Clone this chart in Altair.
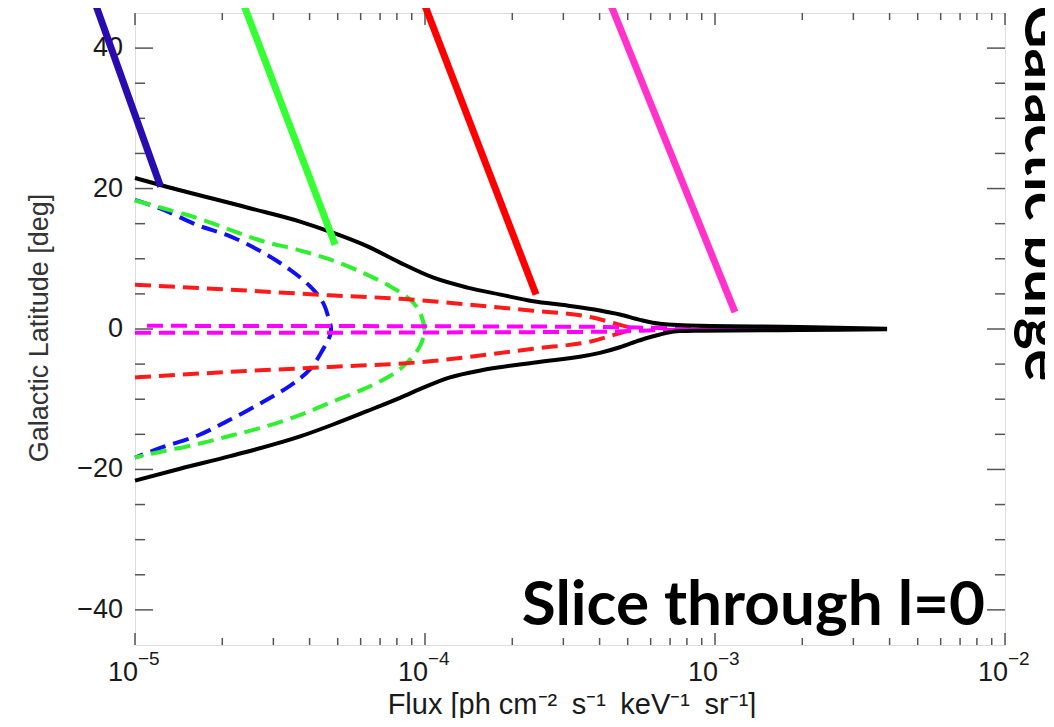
import altair as alt
import pandas as pd

# ---------------- data ----------------
# black solid envelope (upper / lower)
black_up_flux = [1.0e-5, 1.25e-5, 2.49e-5, 3.71e-5, 4.82e-5, 6.31e-5, 8.20e-5, 1.07e-4, 1.40e-4,
                 1.82e-4, 2.36e-4, 3.09e-4, 4.01e-4, 4.70e-4, 5.51e-4, 6.46e-4, 8.87e-4, 1.96e-3, 3.92e-3]
black_up_lat = [21.5, 20.4, 17.2, 15.3, 13.7, 11.8, 9.45, 7.3, 5.9,
                4.9, 3.95, 3.34, 2.63, 2.06, 1.3, 0.74, 0.45, 0.3, 0.05]
black_lo_flux = [1.0e-5, 1.43e-5, 2.13e-5, 3.71e-5, 4.82e-5, 6.31e-5, 8.20e-5, 1.02e-4, 1.22e-4,
                 1.58e-4, 2.36e-4, 4.01e-4, 4.70e-4, 5.51e-4, 6.46e-4, 7.57e-4, 8.87e-4, 1.96e-3, 3.92e-3]
black_lo_lat = [-21.6, -19.9, -18.1, -15.3, -13.6, -11.7, -9.8, -8.1, -6.9,
                -5.85, -4.8, -3.4, -2.6, -1.6, -0.78, -0.3, -0.25, -0.15, -0.05]

# blue dashed (closed curve, drawn in order)
blue_d_flux = [1.0e-5, 1.25e-5, 1.64e-5, 2.13e-5, 2.76e-5, 3.42e-5, 4.01e-5, 4.45e-5, 4.70e-5, 4.74e-5,
               4.70e-5, 4.45e-5, 4.01e-5, 3.42e-5, 2.76e-5, 2.13e-5, 1.64e-5, 1.25e-5, 1.0e-5]
blue_d_lat = [18.4, 17.0, 14.8, 13.2, 10.9, 8.45, 6.1, 3.76, 0.9, 0.0,
              -1.0, -2.9, -5.75, -8.1, -10.4, -12.9, -15.2, -16.8, -18.3]

# green dashed
green_d_flux = [1.0e-5, 1.25e-5, 1.64e-5, 2.13e-5, 2.76e-5, 3.62e-5, 4.70e-5, 6.11e-5, 7.57e-5, 8.88e-5,
                9.62e-5, 9.93e-5, 9.62e-5, 8.67e-5, 7.57e-5, 6.11e-5, 4.70e-5, 3.62e-5, 2.76e-5,
                2.13e-5, 1.64e-5, 1.25e-5, 1.0e-5]
green_d_lat = [18.3, 17.2, 15.8, 14.1, 12.5, 11.3, 9.9, 8.0, 6.1, 4.2,
               2.3, 0.0, -2.4, -4.8, -6.7, -8.6, -10.5, -12.4, -14.0,
               -15.2, -16.4, -17.4, -18.3]

# red dashed (upper / lower)
red_up_flux = [1.0e-5, 2.13e-5, 4.70e-5, 8.20e-5, 1.40e-4, 2.36e-4, 3.71e-4, 4.52e-4, 5.18e-4]
red_up_lat = [6.3, 5.6, 4.8, 4.3, 3.5, 2.6, 1.7, 0.8, 0.1]
red_lo_flux = [1.0e-5, 2.13e-5, 4.70e-5, 1.04e-4, 1.40e-4, 2.36e-4, 3.79e-4, 4.52e-4, 5.18e-4]
red_lo_lat = [-6.9, -6.1, -5.4, -4.6, -4.0, -2.8, -1.7, -0.8, -0.1]

# magenta dashed (upper / lower)
mag_up_flux = [1.1e-5, 8.20e-5, 4.01e-4, 7.57e-4, 3.92e-3]
mag_up_lat = [0.45, 0.4, 0.3, 0.1, 0.0]
mag_lo_flux = [1.0e-5, 8.20e-5, 4.01e-4, 7.57e-4, 3.92e-3]
mag_lo_lat = [-0.55, -0.5, -0.4, -0.1, 0.0]

# thick solid pointer lines (start above the frame, end on the envelope)
ptr_blue_flux = [7.23e-6, 1.225e-5]
ptr_blue_lat = [46.8, 20.3]
ptr_green_flux = [2.34e-5, 4.90e-5]
ptr_green_lat = [46.8, 12.0]
ptr_red_flux = [9.84e-5, 2.415e-4]
ptr_red_lat = [46.8, 4.9]
ptr_mag_flux = [4.31e-4, 1.172e-3]
ptr_mag_lat = [46.8, 2.4]

# axis ticks / labels
x_major = [1e-5, 1e-4, 1e-3, 1e-2]
x_base_labels = ["10", "10", "10", "10"]
x_exp_labels = ["\u22125", "\u22124", "\u22123", "\u22122"]
x_minor = [m * 10.0 ** d for d in (-5, -4, -3) for m in range(2, 10)]
y_major = [-40, -20, 0, 20, 40]
y_labels = ["\u221240", "\u221220", "0", "20", "40"]
y_minor = [-35, -30, -25, -15, -10, -5, 5, 10, 15, 25, 30, 35]

SP = "\u2002"
x_title = ("Flux [ph cm\u207b\u00b2" + SP + "s\u207b\u00b9" + SP + "keV\u207b\u00b9" + SP +
           "sr\u207b\u00b9]")
y_title = "Galactic Latitude [deg]"
annotation = "Slice through l=0"
side_text = "Galactic bulge"

# ---------------- chart ----------------
W, H = 870, 632
FONT = "Liberation Sans"
TXT = "#1a1a1a"
xscale = alt.Scale(type="log", domain=[1e-5, 1e-2])
yscale = alt.Scale(domain=[-45, 45], nice=False, zero=False)


def X():
    return alt.X("flux:Q", scale=xscale, axis=None)


def Y():
    return alt.Y("lat:Q", scale=yscale, axis=None)


def curve(flux, lat, color, width, dash=None, interp="linear"):
    df = pd.DataFrame({"flux": flux, "lat": lat, "i": list(range(len(flux)))})
    kw = dict(color=color, strokeWidth=width, clip=False, strokeCap="butt", strokeJoin="round",
              interpolate=interp)
    if dash:
        kw["strokeDash"] = dash
    return alt.Chart(df).mark_line(**kw).encode(x=X(), y=Y(), order="i:Q")


TICK = "#555555"
ymaj_df = pd.DataFrame({"lat": y_major, "lab": y_labels})
ymin_df = pd.DataFrame({"lat": y_minor})
xmaj_df = pd.DataFrame({"flux": x_major, "b": x_base_labels, "e": x_exp_labels})
xmin_df = pd.DataFrame({"flux": x_minor})
DASH = [16, 8]

layers = [
    alt.Chart(ymaj_df).mark_rule(color=TICK, strokeWidth=1.5).encode(
        y=Y(), x=alt.value(0), x2=alt.value(18)),
    alt.Chart(ymaj_df).mark_rule(color=TICK, strokeWidth=1.5).encode(
        y=Y(), x=alt.value(W), x2=alt.value(W - 18)),
    alt.Chart(ymin_df).mark_rule(color=TICK, strokeWidth=1.5).encode(
        y=Y(), x=alt.value(0), x2=alt.value(10)),
    alt.Chart(ymin_df).mark_rule(color=TICK, strokeWidth=1.5).encode(
        y=Y(), x=alt.value(W), x2=alt.value(W - 10)),
    alt.Chart(xmaj_df).mark_rule(color=TICK, strokeWidth=1.5).encode(
        x=X(), y=alt.value(H), y2=alt.value(H - 12)),
    alt.Chart(xmaj_df).mark_rule(color=TICK, strokeWidth=1.5).encode(
        x=X(), y=alt.value(0), y2=alt.value(12)),
    alt.Chart(xmin_df).mark_rule(color=TICK, strokeWidth=1.5).encode(
        x=X(), y=alt.value(H), y2=alt.value(H - 7)),
    alt.Chart(xmin_df).mark_rule(color=TICK, strokeWidth=1.5).encode(
        x=X(), y=alt.value(0), y2=alt.value(7)),
    # y tick labels
    alt.Chart(ymaj_df).mark_text(font=FONT, fontSize=27, align="right", baseline="middle",
                                 dx=-12, color=TXT).encode(
        y=Y(), x=alt.value(0), text="lab:N"),
    # x tick labels: "10" with raised exponent
    alt.Chart(xmaj_df).mark_text(font=FONT, fontSize=27, align="right", baseline="alphabetic",
                                 dx=3, color=TXT).encode(
        x=X(), y=alt.value(H + 36), text="b:N"),
    alt.Chart(xmaj_df).mark_text(font=FONT, fontSize=19, align="left", baseline="alphabetic",
                                 dx=3, color=TXT).encode(
        x=X(), y=alt.value(H + 20), text="e:N"),
    # dashed curves
    curve(blue_d_flux, blue_d_lat, "#1010f5", 4, DASH, "cardinal"),
    curve(green_d_flux, green_d_lat, "#2ef02e", 4, DASH, "cardinal"),
    curve(red_up_flux, red_up_lat, "#ff1a1a", 4, DASH, "monotone"),
    curve(red_lo_flux, red_lo_lat, "#ff1a1a", 4, DASH, "monotone"),
    curve(mag_up_flux, mag_up_lat, "#ff00ff", 4, DASH, "monotone"),
    curve(mag_lo_flux, mag_lo_lat, "#ff00ff", 4, DASH, "monotone"),
    # black envelope
    curve(black_up_flux, black_up_lat, "#000000", 4, None, "monotone"),
    curve(black_lo_flux, black_lo_lat, "#000000", 4, None, "monotone"),
    # thick pointer lines
    curve(ptr_blue_flux, ptr_blue_lat, "#2a0bb0", 7),
    curve(ptr_green_flux, ptr_green_lat, "#33ff33", 7),
    curve(ptr_red_flux, ptr_red_lat, "#ff0000", 7),
    curve(ptr_mag_flux, ptr_mag_lat, "#ff33cc", 7),
    # titles and annotations
    alt.Chart(pd.DataFrame({"t": [x_title]})).mark_text(
        font=FONT, fontSize=29, align="center", baseline="alphabetic", color=TXT).encode(
        text="t:N", x=alt.value(437), y=alt.value(H + 69)),
    alt.Chart(pd.DataFrame({"t": [y_title]})).mark_text(
        font=FONT, fontSize=27, align="center", baseline="middle", angle=270, color="#333333").encode(
        text="t:N", x=alt.value(-95), y=alt.value(H / 2 - 1)),
    alt.Chart(pd.DataFrame({"t": [annotation]})).mark_text(
        font="Lato", fontWeight="bold", fontSize=62, align="right", baseline="alphabetic",
        color="#000000").encode(text="t:N", x=alt.value(850), y=alt.value(612)),
    alt.Chart(pd.DataFrame({"t": [side_text]})).mark_text(
        font="Lato", fontWeight="bold", fontSize=60, align="left", baseline="alphabetic",
        angle=90, color="#000000").encode(text="t:N", x=alt.value(890), y=alt.value(-8)),
]

chart = alt.layer(*layers).properties(
    width=W, height=H,
    autosize=alt.AutoSizeParams(type="none"),
    padding={"left": 127, "top": 5, "right": 40, "bottom": 73},
).configure_view(stroke="#555555", strokeWidth=1.5).configure(background="white")

chart.save("out.html", embed_options={"renderer": "svg", "actions": False})
